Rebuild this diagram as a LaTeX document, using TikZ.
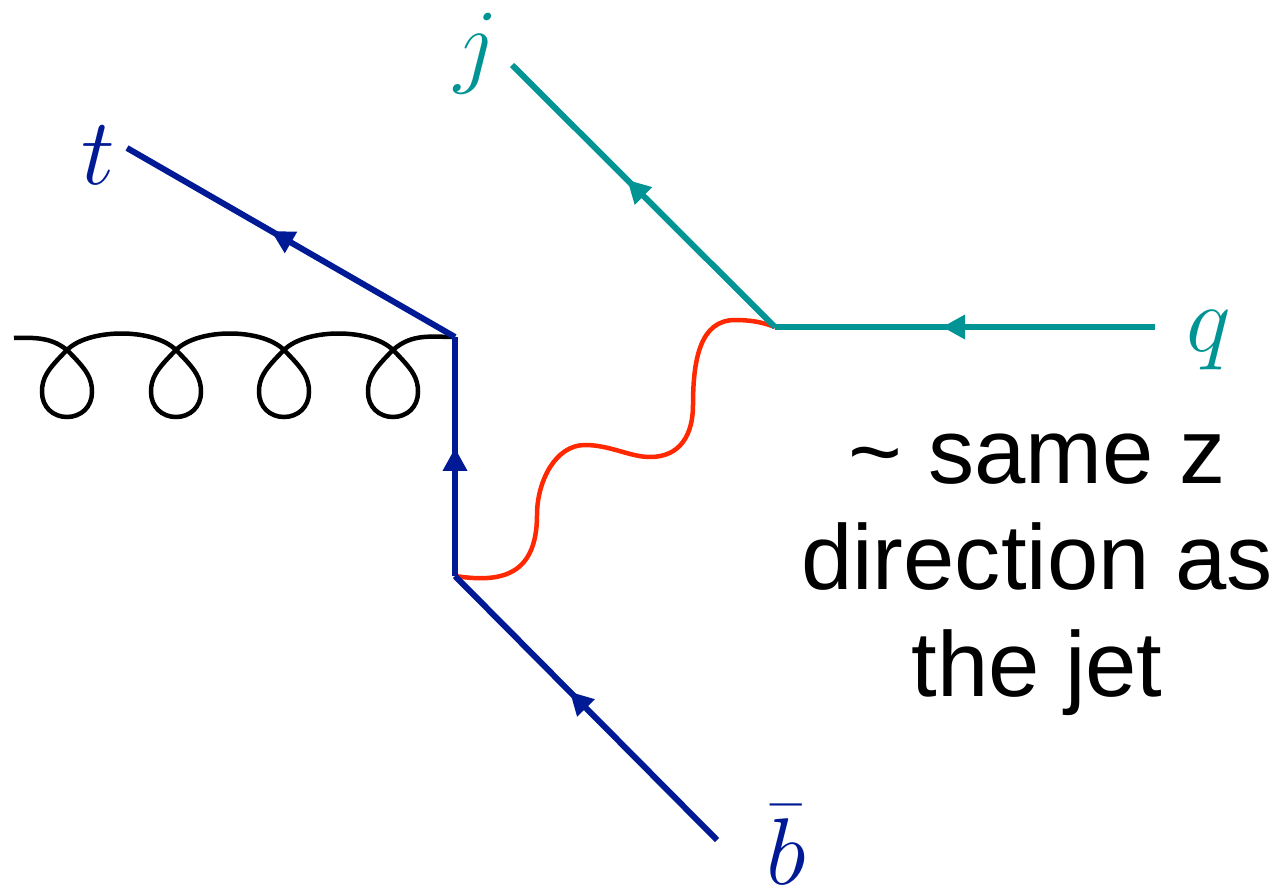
\RequirePackage{fix-cm}
\documentclass[tikz,border=0pt]{standalone}
\usepackage{fontspec}
\newfontfamily\arialfont{Liberation Sans}
\usetikzlibrary{decorations.markings}
\definecolor{fblue}{RGB}{0,26,150}
\definecolor{fteal}{RGB}{0,148,148}
\definecolor{fred}{RGB}{255,40,0}
\begin{document}
\begin{tikzpicture}[x=0.02cm, y=-0.02cm,
  fermion/.style={line width=0.12cm, postaction={decorate},
    decoration={markings, mark=at position #1 with {\fill (0.45cm,0pt) -- (0pt,0.25cm) -- (0pt,-0.25cm) -- cycle;}}},
  fermion/.default=0.5,
  gluon/.style={line width=0.09cm, black},
  photon/.style={line width=0.09cm, fred},
  mathlabel/.style={anchor=base, inner sep=0pt, font=\fontsize{54}{60}\selectfont},
  notelabel/.style={anchor=base, inner sep=0pt, font=\arialfont\fontsize{52.5}{60.7}\selectfont}]
\useasboundingbox (0,0) rectangle (1282,886);

\coordinate (g0) at (14,338);
\coordinate (v1) at (455,337);
\coordinate (v2) at (455,576);
\coordinate (v3) at (775,327);
\coordinate (te) at (127,148);
\coordinate (je) at (512,65);
\coordinate (qe) at (1155,327);
\coordinate (be) at (717,840);

% gluon
\draw[gluon] (g0) .. controls (40,337) and (53,339) .. (67,350)
  .. controls (87,370) and (92,378) .. (92,392) .. controls (92,407) and (81,417) .. (67,417)
  .. controls (53,417) and (42,407) .. (42,392) .. controls (42,378) and (47,370) .. (67,350)
  .. controls (89,328) and (154,328) .. (176,350)
  .. controls (196,370) and (201,378) .. (201,392) .. controls (201,407) and (190,417) .. (176,417)
  .. controls (162,417) and (151,407) .. (151,392) .. controls (151,378) and (156,370) .. (176,350)
  .. controls (198,328) and (262,328) .. (284,350)
  .. controls (304,370) and (309,378) .. (309,392) .. controls (309,407) and (298,417) .. (284,417)
  .. controls (270,417) and (259,407) .. (259,392) .. controls (259,378) and (264,370) .. (284,350)
  .. controls (306,328) and (371,328) .. (393,350)
  .. controls (413,370) and (418,378) .. (418,392) .. controls (418,407) and (407,417) .. (393,417)
  .. controls (379,417) and (368,407) .. (368,392) .. controls (368,378) and (373,370) .. (393,350)
  .. controls (412,333) and (432,337) .. (v1);

% photon
\draw[photon] (v2) .. controls (495,582) and (537,580) .. (537,515)
  .. controls (537,482) and (555,445) .. (585,445)
  .. controls (610,445) and (630,457) .. (650,457)
  .. controls (680,457) and (693,435) .. (693,405)
  .. controls (693,360) and (700,320) .. (735,320)
  .. controls (750,320) and (762,322) .. (v3);

% fermions
\draw[fermion, fblue] (v1) -- (te);
\draw[fermion=0.44, fblue] (v2) -- (v1);
\draw[fermion, fblue] (be) -- (v2);
\draw[fermion, fteal] (v3) -- (je);
\draw[fermion, fteal] (qe) -- (v3);

% labels
\node[mathlabel, fblue] (tl) at (98,184) {$t$};
\node[mathlabel, fteal] (jl) at (476,75) {$j$};
\node[mathlabel, fteal] (ql) at (1209,351) {$q$};
\node[mathlabel, fblue] (bl) at (786,884) {$\bar b$};
\node[notelabel] (note) at (1037,483) {\setlength\tabcolsep{0pt}\begin{tabular}[t]{c}\textasciitilde{} same z\\direction as\\the jet\end{tabular}};
\end{tikzpicture}
\end{document}
